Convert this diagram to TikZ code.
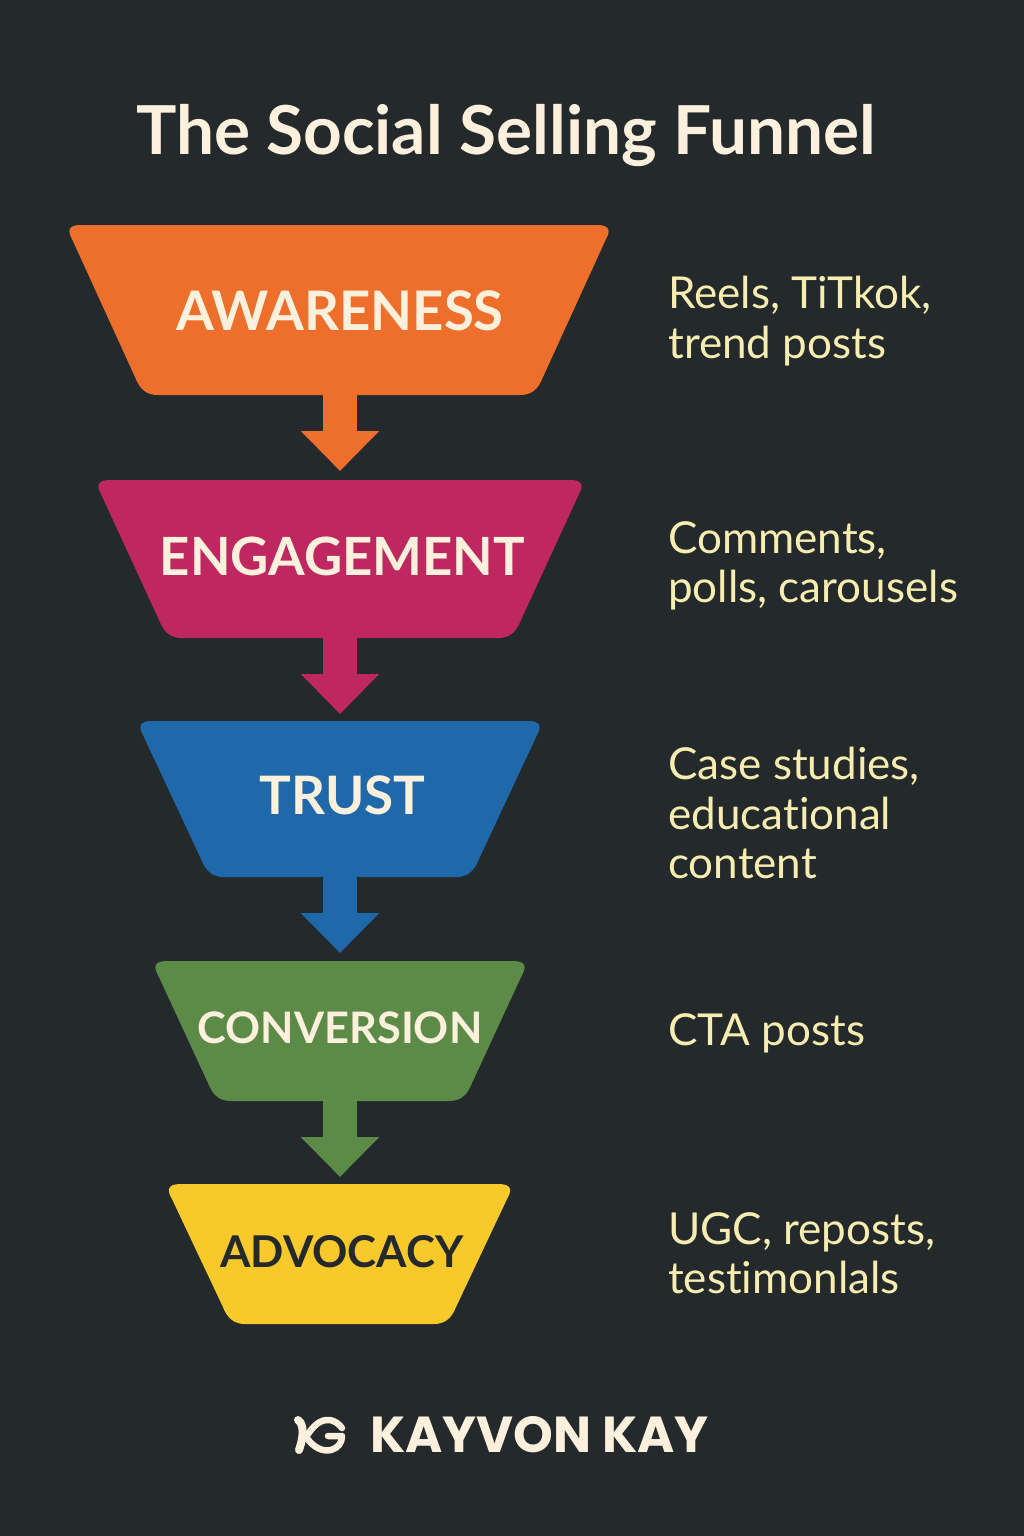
\documentclass[tikz,border=0pt]{standalone}
\usepackage{fontspec}
\setmainfont{Lato}[Ligatures=NoCommon]
\newfontfamily\brandfont{Poppins}
\usetikzlibrary{arrows.meta}
\definecolor{bgdark}{HTML}{24292C}
\definecolor{cream}{HTML}{FDF0DC}
\definecolor{sidecol}{HTML}{F8EDB0}
\definecolor{c1}{HTML}{EE6F2C}
\definecolor{c2}{HTML}{BE2760}
\definecolor{c3}{HTML}{1F69AA}
\definecolor{c4}{HTML}{5C8B47}
\definecolor{c5}{HTML}{F8C92A}
\tikzset{
  x=1pt,y=-1pt,
  stagelabel/.style={inner sep=0pt,outer sep=0pt,font=\fontsize{#1}{#1}\selectfont\bfseries,text=cream},
  sidetext/.style={anchor=west,align=left,inner sep=0pt,text=sidecol,font=\fontsize{44}{49.5}\selectfont},
  flowarrow/.style={line width=34pt,-{Triangle[width=76pt,length=40pt]}},
  logostroke/.style={draw=cream,line width=6.5pt,line cap=round,line join=round},
}
% #1 cx, #2 top, #3 bottom, #4 top half width, #5 bottom half width, #6 colour
\newcommand{\funnelshape}[6]{%
  \fill[#6] ({#1-#4+12},#2) -- ({#1+#4-12},#2)
    .. controls ({#1+#4+2},#2) and ({#1+#4+1},{#2+7}) .. ({#1+#4-3},{#2+14})
    -- ({#1+#5+9},{#3-18})
    .. controls ({#1+#5+4},{#3-5}) and ({#1+#5-3},#3) .. ({#1+#5-14},#3)
    -- ({#1-#5+14},#3)
    .. controls ({#1-#5+3},#3) and ({#1-#5-4},{#3-5}) .. ({#1-#5-9},{#3-18})
    -- ({#1-#4+3},{#2+14})
    .. controls ({#1-#4-1},{#2+7}) and ({#1-#4-2},#2) .. ({#1-#4+12},#2) -- cycle;
}
\begin{document}
\begin{tikzpicture}
\path[use as bounding box,fill=bgdark] (0,0) rectangle (1024,1536);
\node[font=\fontsize{67.5}{67.5}\selectfont\bfseries,text=cream,inner sep=0pt] (title) at (506,136) {The Social Selling Funnel};

% anchor points of each stage
\path (340,395) coordinate (awarenessbot);
\path (340,480) coordinate (engagementtop) (340,638) coordinate (engagementbot);
\path (340,721) coordinate (trusttop) (340,877) coordinate (trustbot);
\path (340,961) coordinate (conversiontop) (340,1101) coordinate (conversionbot);
\path (340,1184) coordinate (advocacytop);

% arrows sit beneath the stages
\draw[flowarrow,c1,shorten >=9pt] ([yshift=2pt]awarenessbot) -- (engagementtop);
\draw[flowarrow,c2,shorten >=7pt] ([yshift=2pt]engagementbot) -- (trusttop);
\draw[flowarrow,c3,shorten >=8pt] ([yshift=2pt]trustbot) -- (conversiontop);
\draw[flowarrow,c4,shorten >=7pt] ([yshift=2pt]conversionbot) -- (advocacytop);

\funnelshape{339}{225}{395}{270}{195}{c1}
\funnelshape{340}{480}{638}{242}{172}{c2}
\funnelshape{340}{721}{877}{200}{130}{c3}
\funnelshape{340}{961}{1101}{185}{123}{c4}
\funnelshape{339.5}{1184}{1324}{171}{108}{c5}

\node[stagelabel=54.5] (awareness) at (340,311) {AWARENESS};
\node[stagelabel=52.7] (engagement) at (342.5,556) {ENGAGEMENT};
\node[stagelabel=53] (trust) at (342.5,795) {TRUST};
\node[stagelabel=43.4] (conversion) at (340,1028) {CONVERSION};
\node[stagelabel=43.8,text=bgdark] (advocacy) at (342,1252) {ADVOCACY};

\node[sidetext] (s1) at (668,321) {Reels, TiTkok,\\trend posts};
\node[sidetext] (s2) at (668,566) {Comments,\\polls, carousels};
\node[sidetext] (s3) at (668,813) {Case studies,\\educational\\content};
\node[sidetext] (s4) at (668,1033) {CTA posts};
\node[sidetext] (s5) at (668,1253) {UGC, reposts,\\testimonlals};

% logo mark
\draw[logostroke,line width=8pt] (298,1420) .. controls (304,1424) and (304,1436) .. (299,1450);
\draw[logostroke] (306,1437) .. controls (313,1426) and (320,1419) .. (330,1420) .. controls (335,1421) and (339,1424) .. (342,1428);
\draw[logostroke] (306,1437) .. controls (313,1447) and (322,1452) .. (331,1450) .. controls (338,1448) and (342,1443) .. (342,1436) -- (328,1436);

\node[font=\fontsize{50.6}{50.6}\selectfont\brandfont\bfseries,text=cream,inner sep=0pt] (brand) at (539.5,1435) {KAYVON KAY};
\end{tikzpicture}
\end{document}
